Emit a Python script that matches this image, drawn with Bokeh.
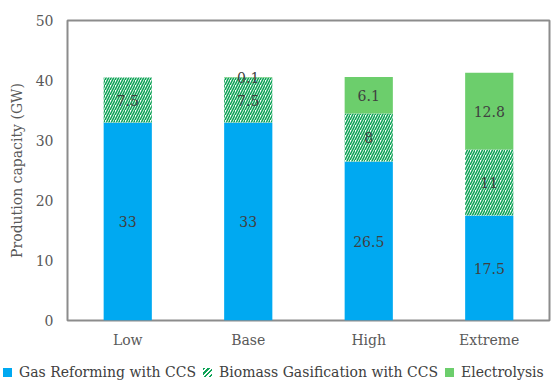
from bokeh.plotting import figure
from bokeh.layouts import column
from bokeh.models import ColumnDataSource, FactorRange, FixedTicker, Div
from bokeh.core.properties import value
from bokeh.embed import file_html
from bokeh.resources import INLINE

# Hydrogen production capacity by scenario (GW)
scenarios = ["Low", "Base", "High", "Extreme"]
gas_ccs = [33, 33, 26.5, 17.5]
biomass_ccs = [7.5, 7.5, 8, 11]
electrolysis = [0, 0.1, 6.1, 12.8]
y_ticks = [0, 10, 20, 30, 40, 50]
series_names = ["Gas Reforming with CCS", "Biomass Gasification with CCS", "Electrolysis"]

FONT = "DejaVu Serif"
BLUE = "#00A9F1"
HATCH_GREEN = "#0FA357"
GREEN = "#6CCE6C"

b0 = [0] * len(scenarios)
b1 = gas_ccs
b2 = [g + b for g, b in zip(gas_ccs, biomass_ccs)]
b3 = [t + e for t, e in zip(b2, electrolysis)]

src = ColumnDataSource(dict(x=scenarios, b0=b0, b1=b1, b2=b2, b3=b3))

p = figure(x_range=FactorRange(*scenarios, range_padding=0), y_range=(0, 50),
           width=553, height=350,
           min_border_left=67, min_border_right=4, min_border_top=20, min_border_bottom=0,
           output_backend="svg", toolbar_location=None)

W = 0.4
p.vbar(x="x", bottom="b0", top="b1", width=W, source=src, fill_color=BLUE, line_color=None)
p.vbar(x="x", bottom="b1", top="b2", width=W, source=src, fill_color="white", line_color=None,
       hatch_pattern="/", hatch_color=HATCH_GREEN, hatch_scale=5, hatch_weight=1.6)
p.vbar(x="x", bottom="b2", top="b3", width=W, source=src, fill_color=GREEN, line_color=None)

# value labels centred in each segment
lx, ly, lt = [], [], []
for i, s in enumerate(scenarios):
    for lo, hi, v in ((b0[i], b1[i], gas_ccs[i]), (b1[i], b2[i], biomass_ccs[i]), (b2[i], b3[i], electrolysis[i])):
        if v > 0:
            lx.append(s)
            ly.append((lo + hi) / 2)
            lt.append(f"{v:g}")
lab = ColumnDataSource(dict(x=lx, y=ly, t=lt))
p.text(x="x", y="y", text="t", source=lab, text_align="center", text_baseline="middle",
       text_font=value(FONT), text_font_size="14px", text_color="#404040")

p.outline_line_color = "#8C8C8C"
p.outline_line_width = 2
p.xgrid.grid_line_color = None
p.ygrid.grid_line_color = None

for ax in (p.xaxis, p.yaxis):
    ax.axis_line_color = None
    ax.major_tick_line_color = None
    ax.minor_tick_line_color = None
    ax.major_tick_out = 0
    ax.major_tick_in = 0
    ax.major_label_text_font = FONT
    ax.major_label_text_font_size = "14px"
    ax.major_label_text_color = "#595959"

p.yaxis.ticker = FixedTicker(ticks=y_ticks)
p.yaxis.major_label_standoff = 14
p.xaxis.major_label_standoff = 11
p.yaxis.axis_label = "Prodution capacity (GW)"
p.yaxis.axis_label_text_font = FONT
p.yaxis.axis_label_text_font_style = "normal"
p.yaxis.axis_label_text_font_size = "14px"
p.yaxis.axis_label_text_color = "#595959"
p.yaxis.axis_label_standoff = 8

# legend strip under the chart, one swatch per series
swatches = [
    f"background:{BLUE}",
    f"background:repeating-linear-gradient(135deg,{HATCH_GREEN} 0 1.6px,#ffffff 1.6px 3.4px)",
    f"background:{GREEN}",
]
items = []
for k, (name, bg) in enumerate(zip(series_names, swatches)):
    gap = "0" if k == 0 else "7px"
    items.append(
        f'<span style="display:inline-block;width:9px;height:9px;{bg};'
        f'margin-left:{gap};margin-right:7px"></span>{name}'
    )
legend_html = (
    f'<div style="padding-top:13px;padding-left:3px;white-space:nowrap;'
    f"font-family:'{FONT}';font-size:14px;line-height:18px;color:#404040\">"
    + "".join(items) + "</div>"
)
legend = Div(text=legend_html, width=553, height=30, margin=(0, 0, 0, 0))

page = column(p, legend, spacing=0)
open("out.html", "w").write(file_html(page, INLINE))
